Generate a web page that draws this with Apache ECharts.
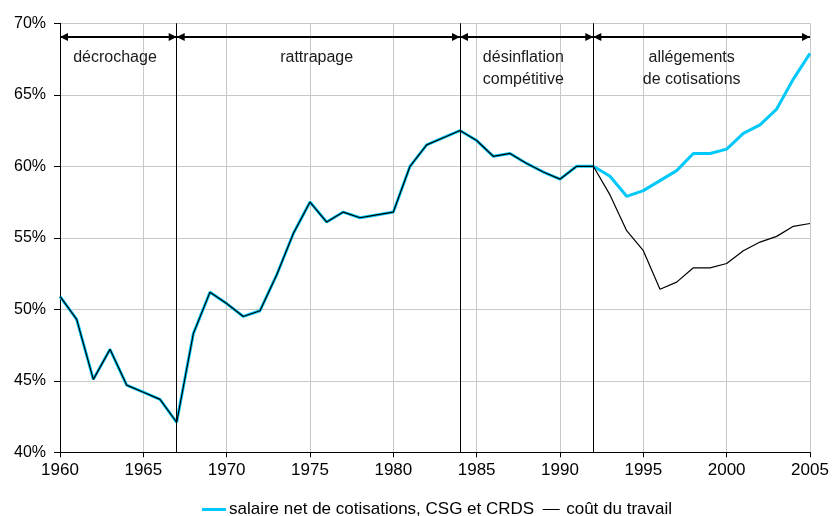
<!DOCTYPE html>
<html><head><meta charset="utf-8">
<script src="https://cdn.jsdelivr.net/npm/echarts@6/dist/echarts.min.js"></script>
<style>html,body{margin:0;padding:0;background:#fff}#c{width:833px;height:516px}</style>
</head><body><div id="c"></div>
<script>
var years = [];
for (var y = 1960; y <= 2005; y++) years.push(y);
var salaireNet = [50.9,49.3,45.1,47.2,44.7,44.2,43.7,42.1,48.3,51.2,50.4,49.5,49.9,52.4,55.3,57.5,56.1,56.8,56.4,56.6,56.8,60.0,61.5,62.0,62.5,61.8,60.7,60.9,60.2,59.6,59.1,60.0,60.0,
  59.3,57.9,58.3,59.0,59.7,60.9,60.9,61.2,62.3,62.9,64.0,66.1,67.9];
var coutTravail = [50.9,49.3,45.1,47.2,44.7,44.2,43.7,42.1,48.3,51.2,50.4,49.5,49.9,52.4,55.3,57.5,56.1,56.8,56.4,56.6,56.8,60.0,61.5,62.0,62.5,61.8,60.7,60.9,60.2,59.6,59.1,60.0,60.0,
  58.0,55.5,54.1,51.4,51.9,52.9,52.9,53.2,54.1,54.7,55.1,55.8,56.0];
var seriesNames = ['salaire net de cotisations, CSG et CRDS', 'coût du travail'];
var yTicks = [40,45,50,55,60,65,70];
var periodBounds = [1960, 1967, 1984, 1992, 2005];
var periodLabels = ['décrochage', 'rattrapage', 'désinflation\ncompétitive', 'allégements\nde cotisations'];
var labelX = [1963.3, 1975.4, 1987.8, 1997.9];
var labelY = [67.6, 67.6, 66.85, 66.85];
var arrowY = 69.04;

function pairs(vals){ return years.map(function(y,i){ return [y, vals[i]]; }); }

var font = '"Liberation Sans", Arial, sans-serif';
var sepLines = periodBounds.slice(1, periodBounds.length - 1).map(function(b){ return { xAxis: b }; });
var arrowLines = [];
for (var i = 0; i < periodBounds.length - 1; i++) {
  arrowLines.push([{ coord: [periodBounds[i], arrowY] }, { coord: [periodBounds[i+1], arrowY] }]);
}
var labelPoints = periodLabels.map(function(t, i){
  return { coord: [labelX[i], labelY[i]], value: t };
});

var chart = echarts.init(document.getElementById('c'), null, { renderer: 'canvas' });
chart.setOption({
  animation: false,
  textStyle: { fontFamily: font },
  grid: { left: 60, right: 23, top: 23.3, bottom: 63.7, containLabel: false },
  xAxis: {
    type: 'value', min: 1960, max: 2005, interval: 5,
    axisLine: { show: true, lineStyle: { color: '#000', width: 1 } },
    axisTick: { show: true, length: 5, lineStyle: { color: '#000' } },
    axisLabel: { color: '#000', fontSize: 17, fontFamily: font, margin: 10,
      formatter: function(v){ return String(v); } },
    splitLine: { show: true, lineStyle: { color: '#c8c8c8', width: 1 } }
  },
  yAxis: {
    type: 'value', min: yTicks[0], max: yTicks[yTicks.length-1], interval: 5,
    axisLine: { show: true, lineStyle: { color: '#000', width: 1 } },
    axisTick: { show: true, length: 6, lineStyle: { color: '#000' } },
    axisLabel: { color: '#000', fontSize: 16, fontFamily: font, margin: 14, formatter: '{value}%' },
    splitLine: { show: true, lineStyle: { color: '#c8c8c8', width: 1 } }
  },
  legend: {
    top: 501, left: 202, padding: 0,
    itemWidth: 24, itemHeight: 3, itemGap: 5,
    textStyle: { color: '#000', fontSize: 17, fontFamily: font, padding: [0,0,0,-2] },
    data: [
      { name: seriesNames[0], icon: 'path://M0,0H24V3H0Z' },
      { name: seriesNames[1], icon: 'path://M0,0M24,3M3.5,1H20.5V2H3.5Z' }
    ]
  },
  series: [
    {
      name: seriesNames[0], type: 'line', data: pairs(salaireNet),
      symbol: 'none', lineStyle: { color: '#00C8F8', width: 3 }, itemStyle: { color: '#00C8F8' },
      z: 2
    },
    {
      name: seriesNames[1], type: 'line', data: pairs(coutTravail),
      symbol: 'none', lineStyle: { color: '#000', width: 1.2 }, itemStyle: { color: '#000' },
      z: 3,
      markLine: {
        silent: true, animation: false,
        symbol: ['none', 'none'],
        label: { show: false },
        lineStyle: { color: '#000', width: 1, type: 'solid' },
        data: sepLines
      }
    },
    {
      name: 'annotations', type: 'line', data: [],
      markLine: {
        silent: true, animation: false,
        symbol: ['triangle', 'triangle'], symbolSize: [8, 8],
        symbolOffset: [[0, 4], [0, 4]],
        label: { show: false },
        lineStyle: { color: '#000', width: 2, type: 'solid' },
        data: arrowLines
      },
      markPoint: {
        silent: true, animation: false,
        symbol: 'rect', symbolSize: 1,
        itemStyle: { color: 'rgba(0,0,0,0)' },
        label: {
          show: true, position: 'inside', color: '#1a1a1a', fontSize: 16, fontFamily: font,
          lineHeight: 21.6, align: 'center', verticalAlign: 'middle',
          formatter: function(p){ return p.value; }
        },
        data: labelPoints
      }
    }
  ]
});
</script></body></html>
